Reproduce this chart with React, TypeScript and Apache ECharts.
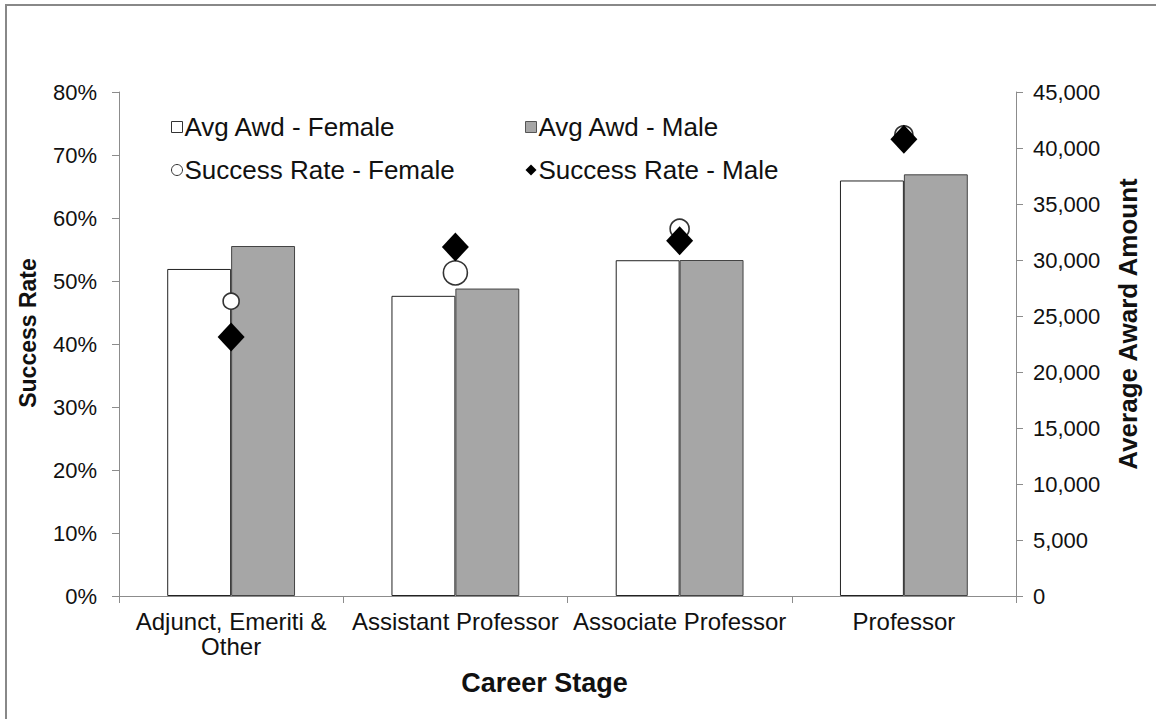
import React, { useEffect, useRef } from "react";
import * as echarts from "echarts";

const categories = ["Adjunct, Emeriti &\nOther", "Assistant Professor", "Associate Professor", "Professor"];
const avgAwdFemale = [29200, 26800, 29980, 37100];
const avgAwdMale = [31250, 27450, 30000, 37650];
const successFemale = [0.468, 0.513, 0.583, 0.732];
const successMale = [0.411, 0.554, 0.564, 0.725];
const leftTicks = { min: 0, max: 0.8, interval: 0.1 };
const rightTicks = { min: 0, max: 45000, interval: 5000 };

const FONT = "Liberation Sans, Arial, sans-serif";
const TXT = "#111";
const AXIS = "#8c8c8c";

export default function App() {
  const ref = useRef<HTMLDivElement>(null);
  useEffect(() => {
    if (!ref.current) return;
    const chart = echarts.init(ref.current, undefined, { renderer: "svg" });
    const circleSizes = [16, 24, 19, 18];
    const legendText = { fontSize: 26, color: TXT, fontFamily: FONT, padding: [0, 0, 0, -3] };
    chart.setOption({
      animation: false,
      backgroundColor: "#fff",
      textStyle: { fontFamily: FONT },
      grid: { left: 119, right: 140, top: 92, bottom: 123, containLabel: false },
      graphic: [
        {
          type: "rect",
          shape: { x: 6, y: 5, width: 1200, height: 800 },
          style: { fill: "none", stroke: "#888", lineWidth: 2 },
          silent: true,
        },
      ],
      legend: [
        {
          orient: "vertical",
          left: 166,
          top: 109,
          itemGap: 17,
          itemWidth: 11,
          itemHeight: 11,
          textStyle: legendText,
          data: [
            { name: "Avg Awd - Female", icon: "rect", itemStyle: { color: "#fff", borderColor: "#333", borderWidth: 1 } },
            { name: "Success Rate - Female", icon: "circle", itemStyle: { color: "#fff", borderColor: "#333", borderWidth: 1 } },
          ],
        },
        {
          orient: "vertical",
          left: 520,
          top: 109,
          itemGap: 17,
          itemWidth: 11,
          itemHeight: 11,
          textStyle: legendText,
          data: [
            { name: "Avg Awd - Male", icon: "rect", itemStyle: { color: "#a6a6a6", borderColor: "#555", borderWidth: 1 } },
            { name: "Success Rate - Male", icon: "diamond", itemStyle: { color: "#000", borderColor: "#000", borderWidth: 0 } },
          ],
        },
      ],
      xAxis: {
        type: "category",
        data: categories,
        name: "Career Stage",
        nameLocation: "middle",
        nameGap: 73,
        nameTextStyle: { fontSize: 27, fontWeight: "bold", color: TXT, fontFamily: FONT, padding: [0, 46, 0, 0] },
        axisLine: { lineStyle: { color: AXIS, width: 1 } },
        axisTick: { show: true, length: 7, lineStyle: { color: AXIS } },
        axisLabel: { fontSize: 24, color: TXT, margin: 13, lineHeight: 25, interval: 0, fontFamily: FONT },
        splitLine: { show: false },
      },
      yAxis: [
        {
          type: "value",
          min: leftTicks.min,
          max: leftTicks.max,
          interval: leftTicks.interval,
          name: "Success Rate",
          nameLocation: "middle",
          nameGap: 80,
          nameRotate: 90,
          nameTextStyle: { fontSize: 23, fontWeight: "bold", color: TXT, fontFamily: FONT, padding: [0, 0, 0, 22] },
          axisLine: { show: true, lineStyle: { color: AXIS } },
          axisTick: { show: true, length: 7, lineStyle: { color: AXIS } },
          axisLabel: {
            fontSize: 22,
            color: TXT,
            margin: 22,
            fontFamily: FONT,
            formatter: (v: number) => `${Math.round(v * 100)}%`,
          },
          splitLine: { show: false },
        },
        {
          type: "value",
          position: "right",
          min: rightTicks.min,
          max: rightTicks.max,
          interval: rightTicks.interval,
          name: "Average Award Amount",
          nameLocation: "middle",
          nameGap: 99,
          nameRotate: 90,
          nameTextStyle: { fontSize: 26, fontWeight: "bold", color: TXT, fontFamily: FONT, padding: [0, 0, 0, 40] },
          axisLine: { show: true, lineStyle: { color: AXIS } },
          axisTick: { show: true, length: 7, lineStyle: { color: AXIS } },
          axisLabel: {
            fontSize: 22,
            color: TXT,
            margin: 17,
            fontFamily: FONT,
            formatter: (v: number) => v.toLocaleString("en-US"),
          },
          splitLine: { show: false },
        },
      ],
      series: [
        {
          name: "Avg Awd - Female",
          type: "bar",
          yAxisIndex: 1,
          data: avgAwdFemale,
          barGap: "0%",
          barCategoryGap: "43%",
          itemStyle: { color: "#fff", borderColor: "#222", borderWidth: 1 },
        },
        {
          name: "Avg Awd - Male",
          type: "bar",
          yAxisIndex: 1,
          data: avgAwdMale,
          barGap: "0%",
          barCategoryGap: "43%",
          itemStyle: { color: "#a6a6a6", borderColor: "#444", borderWidth: 1 },
        },
        {
          name: "Success Rate - Female",
          type: "scatter",
          yAxisIndex: 0,
          symbol: "circle",
          z: 3,
          data: successFemale.map((v, i) => ({ value: v, symbolSize: circleSizes[i] })),
          itemStyle: { color: "#fff", borderColor: "#333", borderWidth: 1.6, opacity: 1 },
        },
        {
          name: "Success Rate - Male",
          type: "scatter",
          yAxisIndex: 0,
          symbol: "diamond",
          symbolSize: [27, 29],
          z: 4,
          data: successMale,
          itemStyle: { color: "#000", opacity: 1 },
        },
      ],
    });
    return () => chart.dispose();
  }, []);
  return (
    <div
      ref={ref}
      style={{ position: "fixed", left: 0, top: 0, width: 1156, height: 719, background: "#fff" }}
    />
  );
}
